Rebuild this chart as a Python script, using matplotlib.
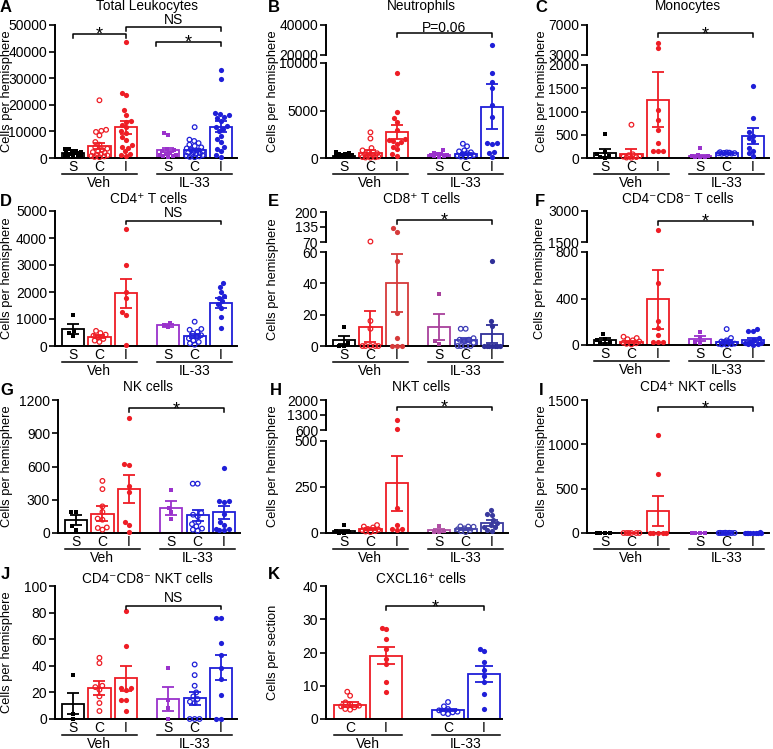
import numpy as np
import matplotlib
matplotlib.use('Agg')
import matplotlib.pyplot as plt
from matplotlib.transforms import blended_transform_factory
from matplotlib.lines import Line2D

plt.rcParams['font.family'] = ['Liberation Sans', 'DejaVu Sans']

# ---------------- data ----------------
groups = ['Veh', 'IL-33']
conds3 = ['S', 'C', 'I']
conds2 = ['C', 'I']

# A Total leukocytes
leuk_mean = [1700, 4600, 11600, 2900, 3000, 11700]
leuk_sem = [350, 1200, 2400, 700, 550, 2100]
leuk_pts = [
    [3500, 3200, 2800, 2600, 2400, 2200, 2000, 1800, 1500, 1200, 1000, 800, 600, 400],
    [21700, 10600, 10200, 9800, 8500, 6000, 5000, 4000, 3500, 3000, 2500, 2200, 2000, 1500, 1200, 1000, 800, 600, 400, 300],
    [43500, 24600, 23500, 17900, 16200, 14000, 13500, 12500, 11500, 10000, 9500, 8000, 6900, 5000, 4000, 3700, 2500, 1600, 1200, 800],
    [9500, 8800, 3500, 3000, 2500, 2000, 1500, 1200, 1000, 800, 600, 400],
    [11600, 6900, 6400, 5600, 5000, 4500, 4000, 3600, 3200, 2800, 2500, 2200, 2000, 1800, 1500, 1200, 1000, 800, 600, 400, 300],
    [33100, 29750, 16900, 16500, 16000, 15500, 15000, 14000, 12000, 11500, 11000, 10000, 8400, 7000, 6000, 4000, 3500, 2500, 1000, 500],
]
leuk_ticks = [0, 10000, 20000, 30000, 40000, 50000]
leuk_brackets = [(0, 2, 46600, '*'), (2, 5, 49200, 'NS'), (3, 5, 43600, '*')]

# B Neutrophils
neut_mean = [250, 550, 2700, 350, 400, 5400]
neut_sem = [60, 250, 750, 80, 120, 2350]
neut_pts = [
    [600, 500, 450, 400, 350, 300, 250, 200, 150, 100],
    [2700, 2050, 1050, 800, 600, 500, 400, 300, 200, 150, 100, 80, 50, 30],
    [8950, 4850, 4200, 3750, 2900, 2000, 1900, 1800, 1700, 1500, 1200, 900, 400, 200],
    [875, 500, 450, 400, 350, 300, 250, 200, 150],
    [1500, 1230, 800, 700, 600, 500, 400, 300, 250, 200, 150, 100],
    [26700, 8950, 7950, 7370, 5600, 4300, 1600, 1550, 1500, 600, 500, 100],
]
neut_ticks_lo = [0, 5000, 10000]
neut_ticks_hi = [20000, 40000]
neut_brackets = [(2, 5, 34400, 'P=0.06')]

# C Monocytes
mono_mean = [110, 90, 1250, 50, 100, 475]
mono_sem = [90, 100, 590, 20, 15, 170]
mono_pts = [
    [520, 120, 80, 50, 20, 5],
    [715, 80, 60, 40, 30, 20, 10, 5],
    [4640, 3890, 1035, 807, 593, 321, 160, 143, 150],
    [207, 60, 50, 40, 30, 20, 15],
    [125, 120, 115, 110, 105, 100, 95, 90, 85],
    [1550, 857, 550, 480, 420, 360, 210, 150, 100, 40],
]
mono_ticks_lo = [0, 500, 1000, 1500, 2000]
mono_ticks_hi = [3000, 7000]
mono_brackets = [(2, 5, 5890, '*')]

# D CD4+ T cells
cd4_mean = [630, 346, 1950, 760, 383, 1605]
cd4_sem = [190, 60, 540, 50, 70, 190]
cd4_pts = [
    [1150, 560, 480, 380],
    [560, 480, 420, 380, 320, 260, 200, 150],
    [4350, 3000, 1990, 1760, 1250, 1150, 50],
    [870, 760, 700],
    [900, 630, 600, 520, 460, 400, 340, 280, 200, 150, 100, 50],
    [2330, 2180, 2000, 1850, 1790, 1650, 1550, 1400, 1090, 680],
]
cd4_ticks = [0, 1000, 2000, 3000, 4000, 5000]
cd4_brackets = [(2, 5, 4640, 'NS')]

# E CD8+ T cells
cd8_mean = [3.8, 12.3, 40, 12.3, 3.6, 7.6]
cd8_sem = [2.8, 10, 18.5, 8.3, 1.3, 5.9]
cd8_pts = [
    [12, 2, 0, 0],
    [72, 16, 11, 0, 0, 0, 0, 0],
    [129, 114, 54, 21, 5, 0, 0, 0],
    [33, 3, 1],
    [11, 11, 5, 4, 4, 3, 2, 0, 0, 0, 0],
    [54, 16, 13, 0, 0, 0, 0, 0, 0, 0],
]
cd8_ticks_lo = [0, 20, 40, 60]
cd8_ticks_hi = [70, 135, 200]
cd8_brackets = [(2, 5, 165, '*')]

# F CD4-CD8- T cells
dnt_mean = [40, 29, 394, 54, 28, 43]
dnt_sem = [20, 8, 255, 20, 12, 15]
dnt_pts = [
    [95, 55, 40, 25, 15, 10],
    [71, 60, 50, 40, 30, 20, 15, 10, 5],
    [2100, 537, 209, 149, 86, 30, 28, 25],
    [111, 65, 30, 20],
    [137, 60, 40, 30, 20, 15, 12, 10, 8, 5, 3],
    [137, 120, 118, 60, 40, 30, 20, 18, 10, 5, 3],
]
dnt_ticks_lo = [0, 400, 800]
dnt_ticks_hi = [1500, 3000]
dnt_brackets = [(2, 5, 2510, '*')]

# G NK cells
nk_mean = [115, 175, 400, 225, 160, 186]
nk_sem = [45, 70, 125, 65, 52, 60]
nk_pts = [
    [190, 185, 60, 30],
    [470, 396, 240, 190, 130, 120, 50, 45, 30],
    [1035, 625, 615, 420, 370, 100, 75, 5],
    [385, 230, 190, 130],
    [445, 445, 180, 165, 150, 100, 80, 60, 40, 30, 20],
    [585, 290, 285, 280, 175, 100, 75, 40, 35, 30, 25],
]
nk_ticks = [0, 300, 600, 900, 1200]
nk_brackets = [(2, 5, 1125, '*')]

# H NKT cells
nkt_mean = [11, 22, 270, 14, 22, 54]
nkt_sem = [7, 4, 150, 8, 4, 14]
nkt_pts = [
    [42, 10, 5, 0, 0],
    [43, 35, 30, 22, 18, 15, 10, 8, 5],
    [1080, 630, 135, 45, 22, 20, 18],
    [40, 12, 5, 3],
    [36, 35, 34, 25, 20, 15, 10, 5],
    [126, 104, 100, 70, 55, 45, 35, 30, 15, 10],
]
nkt_ticks_lo = [0, 250, 500]
nkt_ticks_hi = [600, 1300, 2000]
nkt_brackets = [(2, 5, 1689, '*')]

# I CD4+ NKT cells
cd4nkt_mean = [0, 0, 250, 0, 2, 3]
cd4nkt_sem = [0, 0, 170, 0, 0.5, 1]
cd4nkt_pts = [
    [0, 0, 0, 0],
    [0, 0, 0, 0, 0, 0],
    [1106, 664, 0, 0, 0, 0, 0],
    [0, 0, 0, 0],
    [3, 2, 2, 1, 1, 0, 0, 0, 0],
    [6, 5, 4, 3, 2, 1, 0, 0, 0],
]
cd4nkt_ticks = [0, 500, 1000, 1500]
cd4nkt_brackets = [(2, 5, 1417, '*')]

# J CD4-CD8- NKT cells
dnnkt_mean = [11.5, 23.2, 30.6, 15, 15.7, 38.6]
dnnkt_sem = [8, 5, 9.3, 8.7, 4.8, 9.5]
dnnkt_pts = [
    [33, 4, 0],
    [46, 42, 25, 24, 22, 17, 12, 6],
    [81, 55, 23, 23, 22, 14, 14, 6],
    [38, 14, 8, 0],
    [41, 33, 25, 20, 17, 15, 13, 12, 0, 0, 0],
    [76, 76, 57, 48, 38, 30, 18, 0, 0],
]
dnnkt_ticks = [0, 20, 40, 60, 80, 100]
dnnkt_brackets = [(2, 5, 85, 'NS')]

# K CXCL16+ cells
cxcl_mean = [4.3, 19, 2.7, 13.5]
cxcl_sem = [0.8, 2.6, 0.4, 2.5]
cxcl_pts = [
    [8.2, 7, 5, 4.5, 4, 3.8, 3.5, 3, 2.8],
    [27.5, 27, 24, 21, 18, 16.5, 11, 8],
    [5.1, 3.8, 3, 2.6, 2.2, 2, 1.8, 1.5],
    [21.2, 20.5, 17, 14.7, 13, 11, 7.4, 2.9],
]
cxcl_ticks = [0, 10, 20, 30, 40]
cxcl_brackets = [(1, 3, 33.9, '*')]

# ---------------- styling / layout ----------------
W, H = 773, 749
fig = plt.figure(figsize=(W / 100, H / 100), dpi=100)

RED = '#ee1d25'
BLUE = '#1f1fd8'
PURPLE = '#9a32cc'
BLACK = '#000000'
styles3 = [(BLACK, 's', True), (RED, 'o', False), (RED, 'o', True),
           (PURPLE, 's', True), (BLUE, 'o', False), (BLUE, 'o', True)]
styles2 = [(RED, 'o', False), (RED, 'o', True), (BLUE, 'o', False), (BLUE, 'o', True)]

pos3 = [0, 1, 2, 3.6, 4.6, 5.6]
pos2 = [0, 1, 2.72, 3.72]
xlim3 = (-0.68, 6.2)
xlim2 = (-0.67, 4.22)
ppu3 = 26.45
ppu2 = 36.0

panels = [
    dict(key='A', title='Total Leukocytes', mean=leuk_mean, sem=leuk_sem, pts=leuk_pts,
         lo=leuk_ticks, hi=None, br=leuk_brackets, left=55, top=25, bottom=158,
         tx=147, ty=10, lx=0, ly=12, ylx=7, bdx=[0, 0, -0.45]),
    dict(key='B', title='Neutrophils', mean=neut_mean, sem=neut_sem, pts=neut_pts,
         lo=neut_ticks_lo, hi=neut_ticks_hi, br=neut_brackets, left=326, top=25, bottom=158,
         ub=55, lt=63, tx=421, ty=10, lx=268, ly=12, ylx=273),
    dict(key='C', title='Monocytes', mean=mono_mean, sem=mono_sem, pts=mono_pts,
         lo=mono_ticks_lo, hi=mono_ticks_hi, br=mono_brackets, left=587, top=25, bottom=158,
         ub=55, lt=65, tx=688, ty=10, lx=535, ly=12, ylx=542),
    dict(key='D', title='CD4\u207a T cells', mean=cd4_mean, sem=cd4_sem, pts=cd4_pts,
         lo=cd4_ticks, hi=None, br=cd4_brackets, left=55, top=211, bottom=346,
         tx=148, ty=203, lx=0, ly=206, ylx=7),
    dict(key='E', title='CD8\u207a T cells', mean=cd8_mean, sem=cd8_sem, pts=cd8_pts,
         lo=cd8_ticks_lo, hi=cd8_ticks_hi, br=cd8_brackets, left=326, top=212, bottom=346,
         ub=242, lt=252, tx=422, ty=203, lx=268, ly=206, ylx=273,
         colors={2: '#d63a3a', 3: '#a8409c', 4: '#3b3bb5', 5: '#2f2f98'}),
    dict(key='F', title='CD4\u207bCD8\u207b T cells', mean=dnt_mean, sem=dnt_sem, pts=dnt_pts,
         lo=dnt_ticks_lo, hi=dnt_ticks_hi, br=dnt_brackets, left=587, top=211, bottom=345,
         ub=242, lt=252, tx=678, ty=203, lx=535, ly=206, ylx=540),
    dict(key='G', title='NK cells', mean=nk_mean, sem=nk_sem, pts=nk_pts,
         lo=nk_ticks, hi=None, br=nk_brackets, left=58, top=400, bottom=533,
         tx=148, ty=391, lx=0, ly=395, ylx=7),
    dict(key='H', title='NKT cells', mean=nkt_mean, sem=nkt_sem, pts=nkt_pts,
         lo=nkt_ticks_lo, hi=nkt_ticks_hi, br=nkt_brackets, left=326, top=400, bottom=533,
         ub=430, lt=441, tx=421, ty=391, lx=270, ly=395, ylx=273,
         colors={3: '#b050a5', 4: '#4444aa', 5: '#3a3a9e'}),
    dict(key='I', title='CD4\u207a NKT cells', mean=cd4nkt_mean, sem=cd4nkt_sem, pts=cd4nkt_pts,
         lo=cd4nkt_ticks, hi=None, br=cd4nkt_brackets, left=587, top=400, bottom=533,
         tx=688, ty=391, lx=539, ly=395, ylx=542),
    dict(key='J', title='CD4\u207bCD8\u207b NKT cells', mean=dnnkt_mean, sem=dnnkt_sem, pts=dnnkt_pts,
         lo=dnnkt_ticks, hi=None, br=dnnkt_brackets, left=55, top=586, bottom=719,
         tx=147, ty=583, lx=1, ly=579, ylx=7),
    dict(key='K', title='CXCL16\u207a cells', mean=cxcl_mean, sem=cxcl_sem, pts=cxcl_pts,
         lo=cxcl_ticks, hi=None, br=cxcl_brackets, left=326, top=586, bottom=719,
         tx=421, ty=583, lx=268, ly=579, ylx=273, ylabel='Cells per section'),
]


def make_axes(l, r, t, b):
    return fig.add_axes([l / W, 1 - b / H, (r - l) / W, (b - t) / H])


def style_axes(ax, xlim, ylim, ticks, show_x):
    ax.set_xlim(*xlim)
    ax.set_ylim(*ylim)
    ax.patch.set_visible(False)
    for s in ['top', 'right']:
        ax.spines[s].set_visible(False)
    ax.spines['left'].set_linewidth(1.4)
    ax.spines['bottom'].set_linewidth(1.4)
    ax.set_yticks(ticks)
    ax.set_yticklabels([str(int(t)) for t in ticks])
    ax.tick_params(axis='y', length=4.5, width=1.2, labelsize=10, pad=1.2)
    ax.tick_params(axis='x', length=0, labelsize=10, pad=1.5)
    if not show_x:
        ax.spines['bottom'].set_visible(False)
        ax.set_xticks([])


def swarm_offsets(ypx, d, half):
    n = len(ypx)
    order = sorted(range(n), key=lambda i: ypx[i])
    placed = []
    xs = np.zeros(n)
    for i in order:
        y = ypx[i]
        cands = [0.0]
        for (px, py) in placed:
            dy = abs(py - y)
            if dy < d:
                dx = np.sqrt(d * d - dy * dy)
                cands.extend([px + dx, px - dx])
        cands = sorted(cands, key=lambda c: (abs(c), c))
        chosen = None
        for c in cands:
            if abs(c) > half + 1e-6:
                continue
            if all((c - px) ** 2 + (y - py) ** 2 >= d * d - 1e-3 for px, py in placed):
                chosen = c
                break
        if chosen is None:
            grid = np.linspace(-half, half, 13)
            chosen = max(grid, key=lambda g: min((g - px) ** 2 + (y - py) ** 2 for px, py in placed))
        xs[i] = chosen
        placed.append((chosen, y))
    return xs


for p in panels:
    n = len(p['mean'])
    six = n == 6
    pos = pos3 if six else pos2
    xlim = xlim3 if six else xlim2
    ppu = ppu3 if six else ppu2
    bw = 0.84 if six else 0.88
    styles = styles3 if six else styles2
    conds = conds3 if six else conds2
    left, top, bottom = p['left'], p['top'], p['bottom']
    right = left + (xlim[1] - xlim[0]) * ppu
    broken = p['hi'] is not None
    lo_max = p['lo'][-1]
    if broken:
        ax = make_axes(left, right, p['lt'], bottom)
        axh = make_axes(left, right, top, p['ub'])
        style_axes(ax, xlim, (0, lo_max), p['lo'], True)
        hi_min, hi_max = p['hi'][0], p['hi'][-1]
        style_axes(axh, xlim, (hi_min, hi_max), p['hi'], False)
        h_lo = bottom - p['lt']
        h_hi = p['ub'] - top
        gap = p['lt'] - p['ub']

        def to_px(v):
            if v <= lo_max:
                return v / lo_max * h_lo
            return h_lo + gap + (v - hi_min) / (hi_max - hi_min) * h_hi
    else:
        ax = make_axes(left, right, top, bottom)
        axh = None
        style_axes(ax, xlim, (0, lo_max), p['lo'], True)
        h_lo = bottom - top

        def to_px(v):
            return v / lo_max * h_lo

    ax.set_xticks(pos)
    ax.set_xticklabels(conds * 2)

    bar_px = bw * ppu
    cap = bar_px * 0.28 * 0.72
    for i in range(n):
        col, mk, filled = styles[i]
        col = p.get('colors', {}).get(i, col)
        ax.bar(pos[i], p['mean'][i], width=bw, facecolor='none', edgecolor=col,
               linewidth=1.3, zorder=2)
        vals = np.array(p['pts'][i], dtype=float)
        ypx = [to_px(v) for v in vals]
        off = swarm_offsets(ypx, 4.9, bar_px / 2 - 3.2)
        xs = pos[i] + off / ppu
        if mk == 's':
            size = 9
        else:
            size = 14 if filled else 11
        kw = dict(s=size, marker=mk,
                  facecolors=col if filled else 'none', edgecolors=col,
                  linewidths=0 if filled else 0.9, zorder=3, clip_on=False)
        m_lo = vals <= lo_max
        if m_lo.any():
            ax.scatter(xs[m_lo], vals[m_lo], **kw)
        if broken and (~m_lo).any():
            axh.scatter(xs[~m_lo], vals[~m_lo], **kw)
        ax.errorbar(pos[i], p['mean'][i], yerr=p['sem'][i], fmt='none', ecolor=col,
                    elinewidth=1.3, capsize=cap, capthick=1.3, zorder=4)

    # group lines and labels
    tr = blended_transform_factory(ax.transData, fig.transFigure)
    half = n // 2
    yl = 1 - (bottom + 16) / H
    yt = 1 - (bottom + 25) / H
    for g in range(2):
        a = pos[g * half] - bw / 2
        b = pos[g * half + half - 1] + bw / 2
        fig.add_artist(Line2D([a, b], [yl, yl], transform=tr, color='black', lw=1.1))
        fig.text((a + b) / 2, yt, groups[g], transform=tr, ha='center', va='center', fontsize=10)

    # brackets
    bax = axh if broken else ax
    ylo, yhi = bax.get_ylim()
    bh = (p['ub'] - top) if broken else (bottom - top)
    dpp = (yhi - ylo) / bh
    bdx = p.get('bdx', [0] * len(p['br']))
    for k, (g1, g2, yv, txt) in enumerate(p['br']):
        x1 = pos[g1] + bdx[k]
        x2 = pos[g2]
        bax.plot([x1, x1, x2, x2], [yv - 3.5 * dpp, yv, yv, yv - 3.5 * dpp], color='black',
                 lw=1.1, clip_on=False, zorder=5)
        if txt == '*':
            fs, off = 13, -4.2
        elif txt == 'NS':
            fs, off = 10, 2.5
        else:
            fs, off = 10, 1.0
        bax.annotate(txt, xy=((x1 + x2) / 2, yv), xytext=(0, off), textcoords='offset points',
                     ha='center', va='baseline', fontsize=fs, annotation_clip=False)

    # texts
    fig.text(p['tx'] / W, 1 - p['ty'] / H, p['title'], ha='center', va='baseline', fontsize=9.8)
    fig.text(p['lx'] / W, 1 - p['ly'] / H, p['key'], ha='left', va='baseline', fontsize=12,
             fontweight='bold')
    fig.text(p['ylx'] / W, 1 - (top + bottom) / 2 / H, p.get('ylabel', 'Cells per hemisphere'),
             rotation=90, ha='center', va='center', fontsize=9.3)

fig.savefig('out.png', dpi=100)
